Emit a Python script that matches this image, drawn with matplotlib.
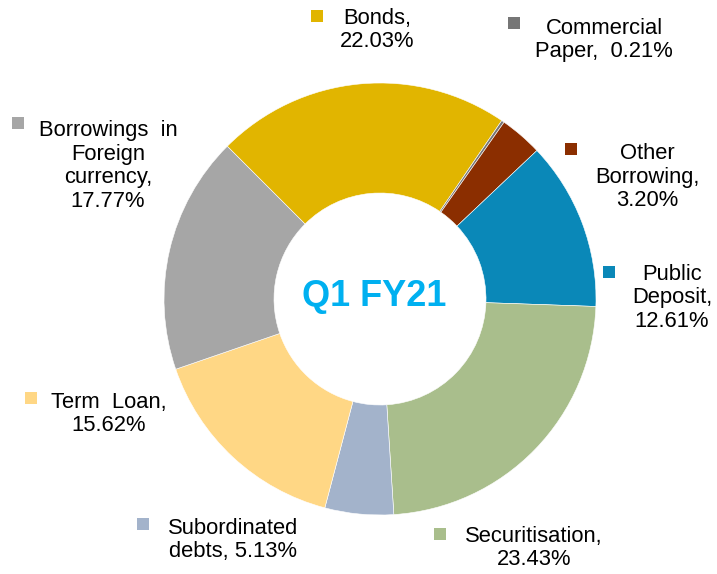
import matplotlib.pyplot as plt

# Borrowing mix, Q1 FY21 (share of total, %)
categories = ["Bonds", "Commercial Paper", "Other Borrowing", "Public Deposit",
              "Securitisation", "Subordinated debts", "Term Loan",
              "Borrowings in Foreign currency"]
shares = [22.03, 0.21, 3.20, 12.61, 23.43, 5.13, 15.62, 17.77]
label_text = ["Bonds,\n22.03%", "Commercial\nPaper,  0.21%", "Other\nBorrowing,\n3.20%",
              "Public\nDeposit,\n12.61%", "Securitisation,\n23.43%", "Subordinated\ndebts, 5.13%",
              "Term  Loan,\n15.62%", "Borrowings  in\nForeign\ncurrency,\n17.77%"]
colors = ["#E1B500", "#767676", "#8B2E00", "#0A88B8",
          "#A9BE8C", "#A3B3CB", "#FFD785", "#A6A6A6"]

W, H = 717, 574
fig = plt.figure(figsize=(W / 100, H / 100), dpi=100)
ax = fig.add_axes([0, 0, 1, 1])

plt.rcParams["font.family"] = ["Liberation Sans", "DejaVu Sans"]

cx, cy, r = 380, H - 299, 216
ax.pie(shares, colors=colors, startangle=135, counterclock=False,
       center=(cx, cy), radius=r, frame=True,
       wedgeprops=dict(width=110, edgecolor="white", linewidth=0.4))
ax.set_xlim(0, W)
ax.set_ylim(0, H)
ax.set_aspect("equal")
ax.axis("off")

ax.text(cx - 6, cy + 3, "Q1 FY21", color="#00B0F0", fontsize=26, fontweight="bold",
        ha="center", va="center")

# label positions in pixels (marker centre, text centre)
marker_pos = [(317, 16), (514, 23), (571, 149), (609, 272),
              (440, 534), (143, 524), (31, 398), (18, 123)]
text_pos = [(377, 30), (604, 40), (647, 177), (672, 298),
            (534, 548), (233, 540), (109, 414), (108, 166)]

for txt, col, (mx, my), (tx, ty) in zip(label_text, colors, marker_pos, text_pos):
    ax.scatter([mx], [H - my], marker="s", s=75, color=col, linewidths=0)
    ax.text(tx, H - ty, txt, fontsize=15.8, ha="center", va="center",
            multialignment="center", linespacing=1.18, color="black")

fig.savefig("out.png", dpi=100)
